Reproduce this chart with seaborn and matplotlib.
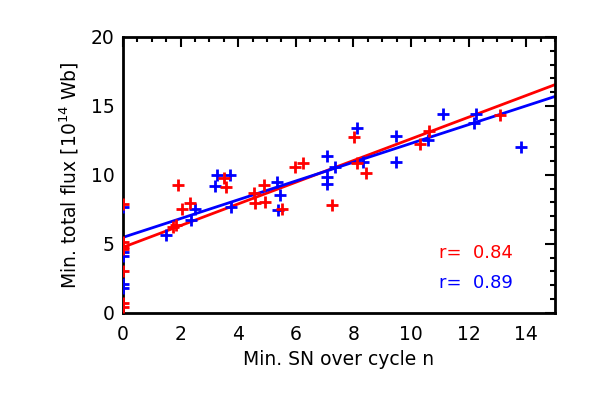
import matplotlib
matplotlib.use("Agg")
import matplotlib.pyplot as plt
from matplotlib.ticker import MultipleLocator
import numpy as np
import pandas as pd
import seaborn as sns

# red series (min SN, min total flux)
red_x = [0, 0, 0, 0, 0, 0, 0, 1.74, 1.85, 1.9, 2.05, 2.32, 3.5, 3.59, 4.54, 4.57,
         4.89, 4.95, 5.53, 5.99, 6.26, 7.27, 8.04, 8.11, 8.45, 10.3, 10.63, 13.09]
red_y = [7.9, 5.1, 4.8, 4.6, 3.0, 0.7, 0.4, 6.2, 6.37, 9.3, 7.53, 7.94, 9.76, 9.15, 8.67, 7.94,
         9.3, 8.06, 7.53, 10.56, 10.85, 7.82, 12.74, 10.85, 10.17, 12.23, 13.15, 14.36]

# blue series
blue_x = [0, 0, 0, 0, 0, 1.51, 2.36, 2.51, 3.21, 3.27, 3.73, 3.75, 5.35, 5.45, 5.38,
          7.09, 7.09, 7.09, 7.36, 8.13, 8.33, 9.47, 9.49, 10.6, 11.12, 12.19, 12.25, 13.81]
blue_y = [7.7, 4.4, 4.1, 2.1, 1.8, 5.64, 6.73, 7.53, 9.22, 10.0, 10.0, 7.7, 9.52, 8.55, 7.46,
          11.38, 9.88, 9.35, 10.56, 13.39, 10.9, 12.83, 10.97, 12.54, 14.41, 13.75, 14.41, 12.0]

# linear fits: intercept, slope
red_fit = (4.75, 0.786)
blue_fit = (5.47, 0.681)
red_r = 0.84
blue_r = 0.89

sns.set_style("white")
plt.rcParams['font.family'] = ['DejaVu Sans']
plt.rcParams['text.color'] = 'black'
plt.rcParams['axes.labelcolor'] = 'black'
plt.rcParams['xtick.color'] = 'black'
plt.rcParams['ytick.color'] = 'black'

fig = plt.figure(figsize=(5.91, 3.93), dpi=100)
ax = fig.add_axes([0.208, 0.204, 0.731, 0.702])

xs = np.array([0, 15])
sns.lineplot(x=xs, y=red_fit[0] + red_fit[1] * xs, color="red", linewidth=2, ax=ax)
sns.lineplot(x=xs, y=blue_fit[0] + blue_fit[1] * xs, color="blue", linewidth=2, ax=ax)
sns.scatterplot(x=blue_x, y=blue_y, marker="+", s=75, linewidth=2, color="blue", ax=ax, zorder=3)
sns.scatterplot(x=red_x, y=red_y, marker="+", s=75, linewidth=2, color="red", ax=ax, zorder=3)

ax.set_xlim(0, 15)
ax.set_ylim(0, 20)
ax.xaxis.set_major_locator(MultipleLocator(2))
ax.xaxis.set_minor_locator(MultipleLocator(0.5))
ax.yaxis.set_major_locator(MultipleLocator(5))
ax.yaxis.set_minor_locator(MultipleLocator(1))
ax.tick_params(which="both", direction="in", top=True, right=True, width=1.5, labelsize=13.5)
ax.tick_params(axis="x", pad=9)
ax.tick_params(axis="y", pad=6)
ax.tick_params(which="major", length=7)
ax.tick_params(which="minor", length=3.5)
for s in ax.spines.values():
    s.set_linewidth(2)
    s.set_color("black")

ax.set_xlabel("Min. SN over cycle n", fontsize=13.5, labelpad=4)
ax.set_ylabel("Min. total flux [10$^{14}$ Wb]", fontsize=13.5, labelpad=7)

ax.text(10.97, 4.36, f"r=  {red_r:.2f}", color="red", fontsize=13, va="center")
ax.text(10.97, 2.18, f"r=  {blue_r:.2f}", color="blue", fontsize=13, va="center")

fig.savefig("out.png", dpi=100)
